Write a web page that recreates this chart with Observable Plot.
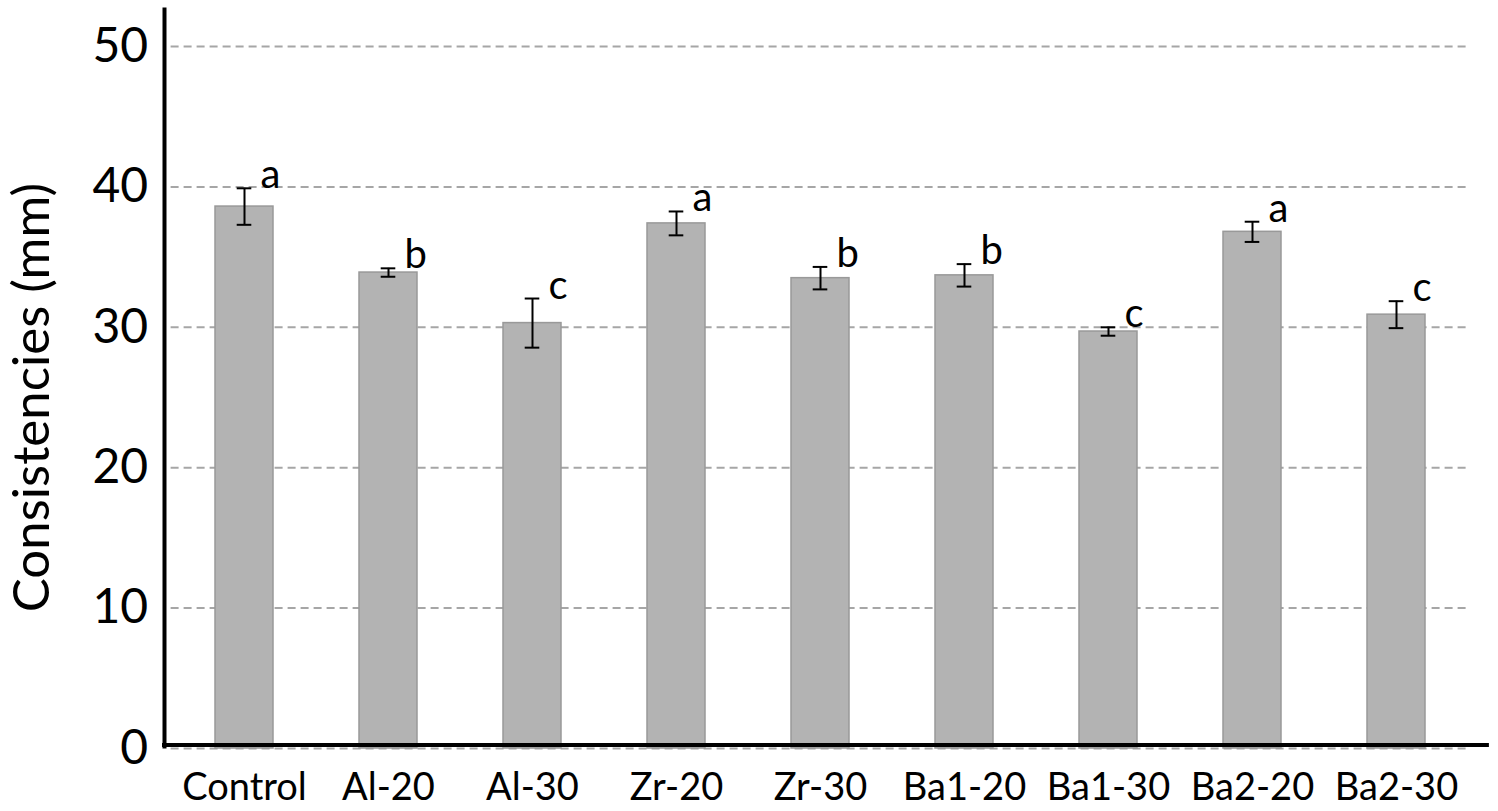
<!DOCTYPE html>
<html>
<head>
<meta charset="utf-8">
<script src="https://cdn.jsdelivr.net/npm/d3@7"></script>
<script src="https://cdn.jsdelivr.net/npm/@observablehq/plot@0.6"></script>
<style>
  html, body { margin: 0; padding: 0; background: white; }
</style>
</head>
<body>
<div id="chart"></div>
<script>
const categories = ["Control", "Al-20", "Al-30", "Zr-20", "Zr-30", "Ba1-20", "Ba1-30", "Ba2-20", "Ba2-30"];
const means = [38.6, 33.9, 30.3, 37.4, 33.5, 33.7, 29.7, 36.8, 30.9];
const errors = [1.3, 0.3, 1.75, 0.85, 0.8, 0.8, 0.3, 0.72, 0.96];
const letters = ["a", "b", "c", "a", "b", "b", "c", "a", "c"];
const yTicks = [0, 10, 20, 30, 40, 50];
const yTitle = "Consistencies (mm)";

const data = categories.map((c, i) => ({cat: c, mean: means[i], err: errors[i], letter: letters[i]}));

const chart = Plot.plot({
  width: 1498,
  height: 811,
  marginLeft: 170.6,
  marginRight: 29.1,
  marginTop: 46,
  marginBottom: 63,
  style: {fontFamily: "Lato, 'Open Sans', sans-serif", background: "white", color: "black"},
  x: {domain: categories, paddingInner: 0.595, paddingOuter: 0.2975, label: null},
  y: {domain: [0, 50], label: null},
  marks: [
    Plot.ruleY(yTicks, {stroke: "#a6a6a6", strokeWidth: 2, strokeDasharray: "8,5"}),
    Plot.barY(data, {x: "cat", y: "mean", fill: "#b3b3b3", stroke: "#999999", strokeWidth: 1.5}),
    Plot.ruleX(data, {x: "cat", y1: d => d.mean - d.err, y2: d => d.mean + d.err, stroke: "black", strokeWidth: 2}),
    Plot.tickY(data, {x: "cat", y: d => d.mean - d.err, stroke: "black", strokeWidth: 2, insetLeft: 21.7, insetRight: 21.7}),
    Plot.tickY(data, {x: "cat", y: d => d.mean + d.err, stroke: "black", strokeWidth: 2, insetLeft: 21.7, insetRight: 21.7}),
    Plot.text(data, {x: "cat", y: d => d.mean + d.err, text: "letter", dx: 16, dy: 0, textAnchor: "start", lineAnchor: "bottom", fontSize: 40, fill: "black"}),
    Plot.axisX({tickSize: 0, tickPadding: 25, fontSize: 38, label: null}),
    Plot.axisY({ticks: yTicks, tickSize: 0, tickPadding: 23, fontSize: 48, label: null}),
    Plot.axisY({ticks: [], tickSize: 0, fontSize: 51, label: yTitle, labelAnchor: "center", labelArrow: "none", labelOffset: 158}),
    Plot.ruleY([0], {dy: -3.5, insetLeft: -8.6, insetRight: -20, stroke: "black", strokeWidth: 4}),
    Plot.frame({anchor: "left", stroke: "black", strokeWidth: 4, insetLeft: -6.6, insetTop: -37, insetBottom: 2})
  ]
});
document.getElementById("chart").appendChild(chart);
</script>
</body>
</html>
